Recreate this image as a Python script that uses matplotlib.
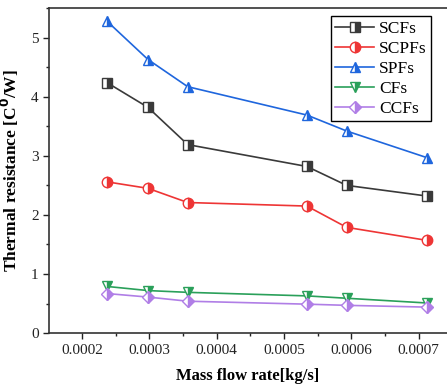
import matplotlib
matplotlib.use("Agg")
import matplotlib.pyplot as plt
from matplotlib.ticker import MultipleLocator, FixedLocator

plt.rcParams['font.family'] = ['Liberation Serif', 'DejaVu Serif']

x = [0.000237, 0.000298, 0.000357, 0.000534, 0.000593, 0.000712]
scfs = [4.24, 3.82, 3.19, 2.82, 2.50, 2.32]
scpfs = [2.56, 2.45, 2.21, 2.15, 1.79, 1.57]
spfs = [5.28, 4.63, 4.17, 3.69, 3.42, 2.97]
cfs = [0.79, 0.72, 0.69, 0.63, 0.59, 0.51]
ccfs = [0.67, 0.61, 0.54, 0.49, 0.47, 0.44]
xticks = [0.0002, 0.0003, 0.0004, 0.0005, 0.0006, 0.0007]
xticklabels = ['0.0002', '0.0003', '0.0004', '0.0005', '0.0006', '0.0007']

series = [
    ('SCFs', scfs, '#3a3a3a', 's'),
    ('SCPFs', scpfs, '#ee3535', 'o'),
    ('SPFs', spfs, '#1f66dd', '^'),
    ('CFs', cfs, '#2aa05a', 'v'),
    ('CCFs', ccfs, '#b07ee6', 'D'),
]

fig = plt.figure(figsize=(4.47, 3.86), dpi=100)
ax = fig.add_axes([0.1096, 0.137, 0.8904, 0.842])

for name, ys, c, m in series:
    ax.plot(x, ys, color=c, lw=1.2, marker=m, ms=7.5 if m != 'D' else 6.5,
            fillstyle='right', markerfacecolor=c, markerfacecoloralt='white',
            markeredgecolor=c, markeredgewidth=1.0, label=name)

ax.set_xlim(0.000151, 0.000742)
ax.set_ylim(0, 5.5)
ax.xaxis.set_major_locator(FixedLocator(xticks))
ax.set_xticklabels(xticklabels)
ax.xaxis.set_minor_locator(MultipleLocator(0.00005))
ax.yaxis.set_major_locator(MultipleLocator(1))
ax.yaxis.set_minor_locator(MultipleLocator(0.5))
ax.tick_params(which='both', direction='out', width=1.0, labelsize=11, colors='#222222')
ax.tick_params(which='major', length=4)
ax.tick_params(which='minor', length=2.5)
ax.spines['right'].set_visible(False)
for s in ['left', 'bottom', 'top']:
    ax.spines[s].set_linewidth(1.2)
    ax.spines[s].set_color('#333333')

ax.set_xlabel('Mass flow rate[kg/s]', fontsize=12, fontweight='bold', labelpad=8)
ax.set_ylabel('Thermal resistance [C$^{\\mathbf{0}}$/W]', fontsize=12.5, fontweight='bold', labelpad=7)

leg = ax.legend(loc='upper right', bbox_to_anchor=(0.968, 0.985), fontsize=12.5,
                fancybox=False, edgecolor='black', framealpha=1,
                handlelength=2.2, handletextpad=0.3, labelspacing=0.22, borderpad=0.25,
                borderaxespad=0.2)
leg.get_frame().set_linewidth(1.0)

fig.savefig('out.png', dpi=100)
